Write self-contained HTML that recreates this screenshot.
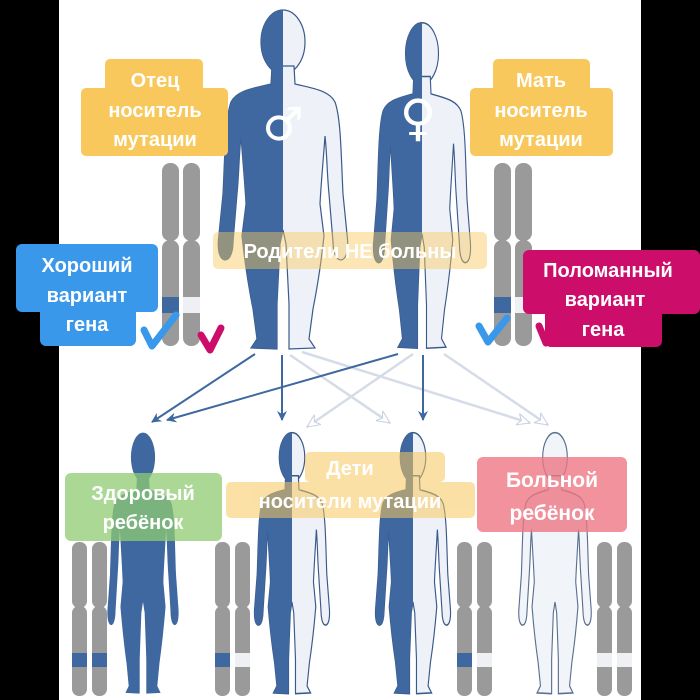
<!DOCTYPE html>
<html><head><meta charset="utf-8"><style>
html,body{margin:0;padding:0;background:#000;width:700px;height:700px;overflow:hidden}
svg{display:block}
text{font-family:"Liberation Sans","DejaVu Sans",sans-serif;font-weight:bold;fill:#fff;text-anchor:middle}
</style></head><body>
<svg width="700" height="700" viewBox="0 0 700 700" xmlns="http://www.w3.org/2000/svg">
<defs>
<g id="body">
<ellipse cx="0" cy="38" rx="22" ry="32"/>
<path d="M-11,62 L11,62 L12,80 C28,84 46,86 52,98 C58,115 58,150 60,190 L64,230 C66,245 64,255 58,256 C52,256 50,245 50,238 L46,190 C44,170 44,150 42,132 C40,160 38,180 37,200 L41,232 C38,260 33,290 30,305 L26,335 L32,344 L6,345 L6,300 L3,240 L0,226 L-3,240 L-6,300 L-6,345 L-32,344 L-26,335 L-30,305 C-33,290 -38,260 -41,232 L-37,200 C-38,180 -40,160 -42,132 C-44,150 -44,170 -46,190 L-50,238 C-50,245 -52,256 -58,256 C-64,255 -66,245 -64,230 L-60,190 C-58,150 -58,115 -52,98 C-46,86 -28,84 -12,80 Z"/>
</g>
<clipPath id="lh"><rect x="-100" y="-10" width="100" height="400"/></clipPath>
<marker id="ab" markerWidth="10" markerHeight="10" refX="9" refY="5" orient="auto" markerUnits="userSpaceOnUse"><path d="M0,0 L10,5 L0,10 L3,5 Z" fill="#3f67a0"/></marker>
<marker id="al" markerWidth="14" markerHeight="14" refX="13" refY="7" orient="auto" markerUnits="userSpaceOnUse"><path d="M0,1 L13,7 L0,13 L4,7 Z" fill="#fff" stroke="#c5cfe0" stroke-width="1"/></marker>
</defs>
<rect x="59" y="0" width="582" height="700" fill="#fff"/>

<g transform="translate(283,4)">
<use href="#body" fill="#eef2f8" stroke="#3a5a8a" stroke-width="1.2"/>
<use href="#body" fill="#3f67a0" clip-path="url(#lh)"/>
</g>
<g transform="translate(422,17) scale(0.75,0.96)">
<use href="#body" fill="#eef2f8" stroke="#3a5a8a" stroke-width="1.5"/>
<use href="#body" fill="#3f67a0" clip-path="url(#lh)"/>
</g>
<text x="283" y="140" style="font-size:46px;font-family:'DejaVu Sans',sans-serif">♂</text>
<text x="418" y="135" style="font-size:50px;font-family:'DejaVu Sans',sans-serif">♀</text>

<g transform="translate(143,428) scale(0.55,0.77)"><use href="#body" fill="#3f67a0"/></g>
<g transform="translate(292,428) scale(0.58,0.77)">
<use href="#body" fill="#eef2f8" stroke="#3a5a8a" stroke-width="2"/>
<use href="#body" fill="#3f67a0" clip-path="url(#lh)"/>
</g>
<g transform="translate(413,428) scale(0.58,0.77)">
<use href="#body" fill="#eef2f8" stroke="#3a5a8a" stroke-width="2"/>
<use href="#body" fill="#3f67a0" clip-path="url(#lh)"/>
</g>
<g transform="translate(555,428) scale(0.56,0.77)"><use href="#body" fill="#f1f4f9" stroke="#5a6f90" stroke-width="2"/></g>

<g stroke-width="2.5" fill="none">
<line x1="290" y1="355" x2="390" y2="423" stroke="#d5dce8" marker-end="url(#al)"/>
<line x1="302" y1="352" x2="530" y2="423" stroke="#d5dce8" marker-end="url(#al)"/>
<line x1="413" y1="354" x2="307" y2="427" stroke="#d5dce8" marker-end="url(#al)"/>
<line x1="444" y1="354" x2="548" y2="425" stroke="#d5dce8" marker-end="url(#al)"/>
<line x1="255" y1="354" x2="152" y2="422" stroke="#3f67a0" stroke-width="2" marker-end="url(#ab)"/>
<line x1="398" y1="354" x2="167" y2="420" stroke="#3f67a0" stroke-width="2" marker-end="url(#ab)"/>
<line x1="282" y1="355" x2="282" y2="420" stroke="#3f67a0" stroke-width="2" marker-end="url(#ab)"/>
<line x1="423" y1="355" x2="423" y2="420" stroke="#3f67a0" stroke-width="2" marker-end="url(#ab)"/>
</g>

<g fill="#9a9a9a">
<rect x="162" y="163" width="17" height="78" rx="8"/><rect x="162" y="240" width="17" height="106" rx="8"/>
<rect x="183" y="163" width="17" height="78" rx="8"/><rect x="183" y="240" width="17" height="106" rx="8"/>
<rect x="494" y="163" width="17" height="78" rx="8"/><rect x="494" y="240" width="17" height="106" rx="8"/>
<rect x="515" y="163" width="17" height="78" rx="8"/><rect x="515" y="240" width="17" height="106" rx="8"/>
<rect x="72" y="542" width="15" height="66" rx="7"/><rect x="72" y="606" width="15" height="90" rx="7"/>
<rect x="92" y="542" width="15" height="66" rx="7"/><rect x="92" y="606" width="15" height="90" rx="7"/>
<rect x="215" y="542" width="15" height="66" rx="7"/><rect x="215" y="606" width="15" height="90" rx="7"/>
<rect x="235" y="542" width="15" height="66" rx="7"/><rect x="235" y="606" width="15" height="90" rx="7"/>
<rect x="457" y="542" width="15" height="66" rx="7"/><rect x="457" y="606" width="15" height="90" rx="7"/>
<rect x="477" y="542" width="15" height="66" rx="7"/><rect x="477" y="606" width="15" height="90" rx="7"/>
<rect x="597" y="542" width="15" height="66" rx="7"/><rect x="597" y="606" width="15" height="90" rx="7"/>
<rect x="617" y="542" width="15" height="66" rx="7"/><rect x="617" y="606" width="15" height="90" rx="7"/>
</g>
<rect x="162" y="297" width="17" height="16" fill="#3f67a0"/><rect x="183" y="297" width="17" height="16" fill="#eef0f3"/>
<rect x="494" y="297" width="17" height="16" fill="#3f67a0"/><rect x="515" y="297" width="17" height="16" fill="#eef0f3"/>
<rect x="72" y="653" width="15" height="14" fill="#3f67a0"/><rect x="92" y="653" width="15" height="14" fill="#3f67a0"/>
<rect x="215" y="653" width="15" height="14" fill="#3f67a0"/><rect x="235" y="653" width="15" height="14" fill="#eef0f3"/>
<rect x="457" y="653" width="15" height="14" fill="#3f67a0"/><rect x="477" y="653" width="15" height="14" fill="#eef0f3"/>
<rect x="597" y="653" width="15" height="14" fill="#eef0f3"/><rect x="617" y="653" width="15" height="14" fill="#eef0f3"/>

<g fill="#f8c85c">
<rect x="105" y="59" width="98" height="40" rx="5"/><rect x="81" y="88" width="147" height="68" rx="5"/>
<rect x="493" y="59" width="97" height="40" rx="5"/><rect x="470" y="88" width="143" height="68" rx="5"/>
</g>
<text x="155" y="87" font-size="20">Отец</text><text x="155" y="117" font-size="20">носитель</text><text x="155" y="146" font-size="20">мутации</text>
<text x="541" y="87" font-size="20">Мать</text><text x="541" y="117" font-size="20">носитель</text><text x="541" y="146" font-size="20">мутации</text>

<rect x="213" y="232" width="274" height="37" rx="5" fill="#f8c85c" opacity="0.45"/>
<text x="350" y="258" font-size="20">Родители НЕ больны</text>

<g fill="#3a98ea"><rect x="16" y="244" width="142" height="68" rx="6"/><rect x="40" y="300" width="96" height="46" rx="6"/></g>
<text x="87" y="272" font-size="20">Хороший</text><text x="87" y="302" font-size="20">вариант</text><text x="87" y="331" font-size="20">гена</text>

<g fill="#cc0e6a"><rect x="523" y="250" width="177" height="64" rx="6"/><rect x="545" y="300" width="117" height="47" rx="6"/></g>
<text x="608" y="277" font-size="20">Поломанный</text><text x="605" y="306" font-size="20">вариант</text><text x="603" y="336" font-size="20">гена</text>

<path d="M144,330 L152,346 L176,315" stroke="#3a98ea" stroke-width="7" fill="none" stroke-linecap="round" stroke-linejoin="round"/>
<path d="M201,335 L210,350 L221,328" stroke="#cc0e6a" stroke-width="7" fill="none" stroke-linecap="round" stroke-linejoin="round"/>
<path d="M479,326 L488,342 L507,318" stroke="#3a98ea" stroke-width="7" fill="none" stroke-linecap="round" stroke-linejoin="round"/>
<path d="M539,326 L546,343 L557,323" stroke="#cc0e6a" stroke-width="7" fill="none" stroke-linecap="round" stroke-linejoin="round"/>

<rect x="65" y="473" width="157" height="68" rx="6" fill="#8fcc72" opacity="0.75"/>
<text x="143" y="500" font-size="20">Здоровый</text><text x="143" y="529" font-size="20">ребёнок</text>

<g fill="#f8c85c" opacity="0.55"><rect x="305" y="452" width="140" height="30" rx="5"/><rect x="226" y="482" width="249" height="36" rx="5"/></g>
<text x="350" y="475" font-size="20">Дети</text><text x="350" y="508" font-size="20">носители мутации</text>

<rect x="477" y="457" width="150" height="75" rx="6" fill="#ee7783" opacity="0.8"/>
<text x="552" y="487" font-size="21">Больной</text><text x="552" y="520" font-size="21">ребёнок</text>
</svg>
</body></html>
